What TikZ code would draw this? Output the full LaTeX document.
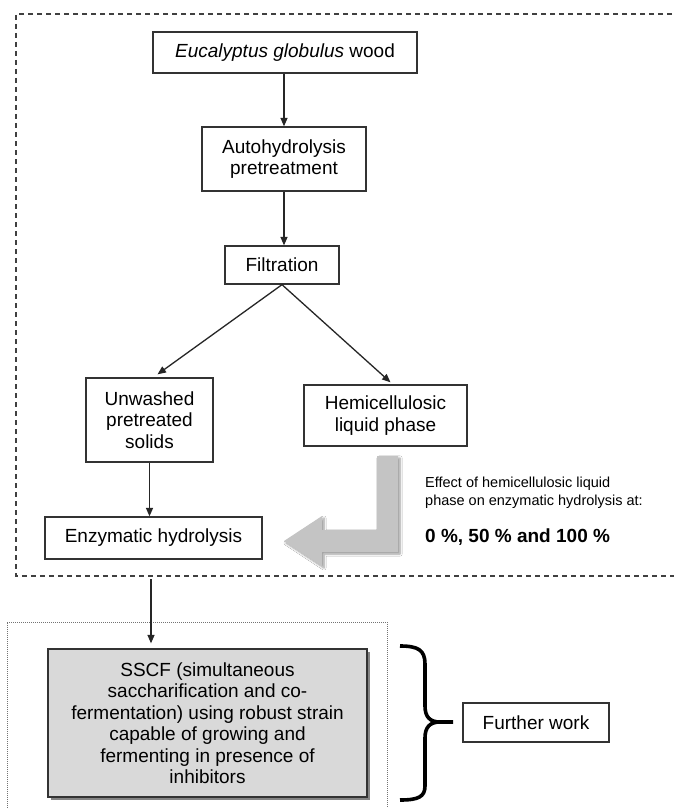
\documentclass[tikz,border=0pt]{standalone}
\usepackage{fontspec}
\setmainfont{Liberation Sans}
\usetikzlibrary{arrows.meta,shadows,shadows.blur,calc}
\definecolor{boxline}{HTML}{333333}
\definecolor{sscffill}{HTML}{D9D9D9}
\definecolor{bigarrow}{HTML}{C4C4C4}
\tikzset{
  stepbox/.style={draw=boxline, line width=1.3pt, fill=white, inner sep=0pt, align=center,
    font=\fontsize{19}{21.5}\selectfont},
  arr/.style={draw=black!85, line width=1.3pt, -{Triangle[length=8.5pt,width=7pt]}},
  outerbox/.style={draw=black!75, line width=1.3pt, dash pattern=on 5pt off 4pt},
  innerbox/.style={draw=black!55, line width=0.9pt, dash pattern=on 1pt off 1pt},
}
\begin{document}
\begin{tikzpicture}[x=1pt,y=-1pt]
\useasboundingbox[fill=white] (0,0) rectangle (673,808);

% frames
\draw[outerbox] (690,14) -- (16,14) -- (16,576) -- (690,576);
\draw[innerbox] (7,820) -- (7,622) -- (387,622) -- (387,820);

% nodes
\node[stepbox, minimum width=264pt, minimum height=41pt] (euc) at (285,52.5) {\textit{Eucalyptus globulus} wood};
\node[stepbox, minimum width=164pt, minimum height=64pt] (auto) at (284,159) {Autohydrolysis\\pretreatment};
\node[stepbox, minimum width=114pt, minimum height=38pt] (filt) at (282,265) {Filtration};
\node[stepbox, minimum width=127pt, minimum height=84pt] (unw) at (149.5,420) {Unwashed\\pretreated\\solids};
\node[stepbox, minimum width=163pt, minimum height=61pt] (hemi) at (385.5,415.5) {Hemicellulosic\\liquid phase};
\node[stepbox, minimum width=217pt, minimum height=42pt] (enz) at (153.5,538) {Enzymatic hydrolysis};
\node[stepbox, fill=sscffill, minimum width=319pt, minimum height=148pt,
      drop shadow={shadow xshift=2.5pt, shadow yshift=-2.5pt, fill=black!60, opacity=0.8}]
      (sscf) at (207.5,723) {SSCF (simultaneous\\saccharification and co-\\fermentation) using robust strain\\capable of growing and\\fermenting in presence of\\inhibitors};
\node[stepbox, minimum width=146pt, minimum height=39pt] (further) at (536,722.5) {Further work};

% side texts
\node[anchor=west, inner sep=0pt, align=left, font=\fontsize{14.5}{18}\selectfont] (effect) at (425,493)
  {Effect of hemicellulosic liquid\\phase on enzymatic hydrolysis at:};
\node[anchor=base west, inner sep=0pt, font=\fontsize{19}{22}\selectfont\bfseries] (pct) at (425,542)
  {0 \%, 50 \% and 100 \%};

% connectors
\draw[arr] (euc.south -| auto) -- (auto.north);
\draw[arr] (auto.south) -- (auto.south |- filt.north);
\draw[arr] (filt.south) -- ($(unw.north)+(8,-3)$);
\draw[arr] (filt.south) -- ($(hemi.north)+(5,-2)$);
\draw[arr] (unw.south) -- (unw.south |- enz.north);
\coordinate (out) at (151,579);
\draw[arr, shorten >=5pt] (out) -- (out |- sscf.north);

% big gray arrow
\fill[bigarrow, blur shadow={shadow xshift=2pt, shadow yshift=-2pt, shadow blur steps=6}]
  (377,456) -- (398,456) -- (398,552) -- (322,552) -- (322,566) -- (284,541)
  -- (322,516) -- (322,530) -- (377,530) -- cycle;

% brace
\draw[line width=3.6pt, line join=round]
  (400,646) .. controls (418,646) and (425,650) .. (425,664) -- (425,706)
  .. controls (425,717) and (430,722) .. (440,722) -- (453,722);
\draw[line width=3.6pt, line join=round]
  (440,722) .. controls (430,722) and (425,727) .. (425,738) -- (425,786)
  .. controls (425,797) and (418,800) .. (400,800);
\end{tikzpicture}
\end{document}
